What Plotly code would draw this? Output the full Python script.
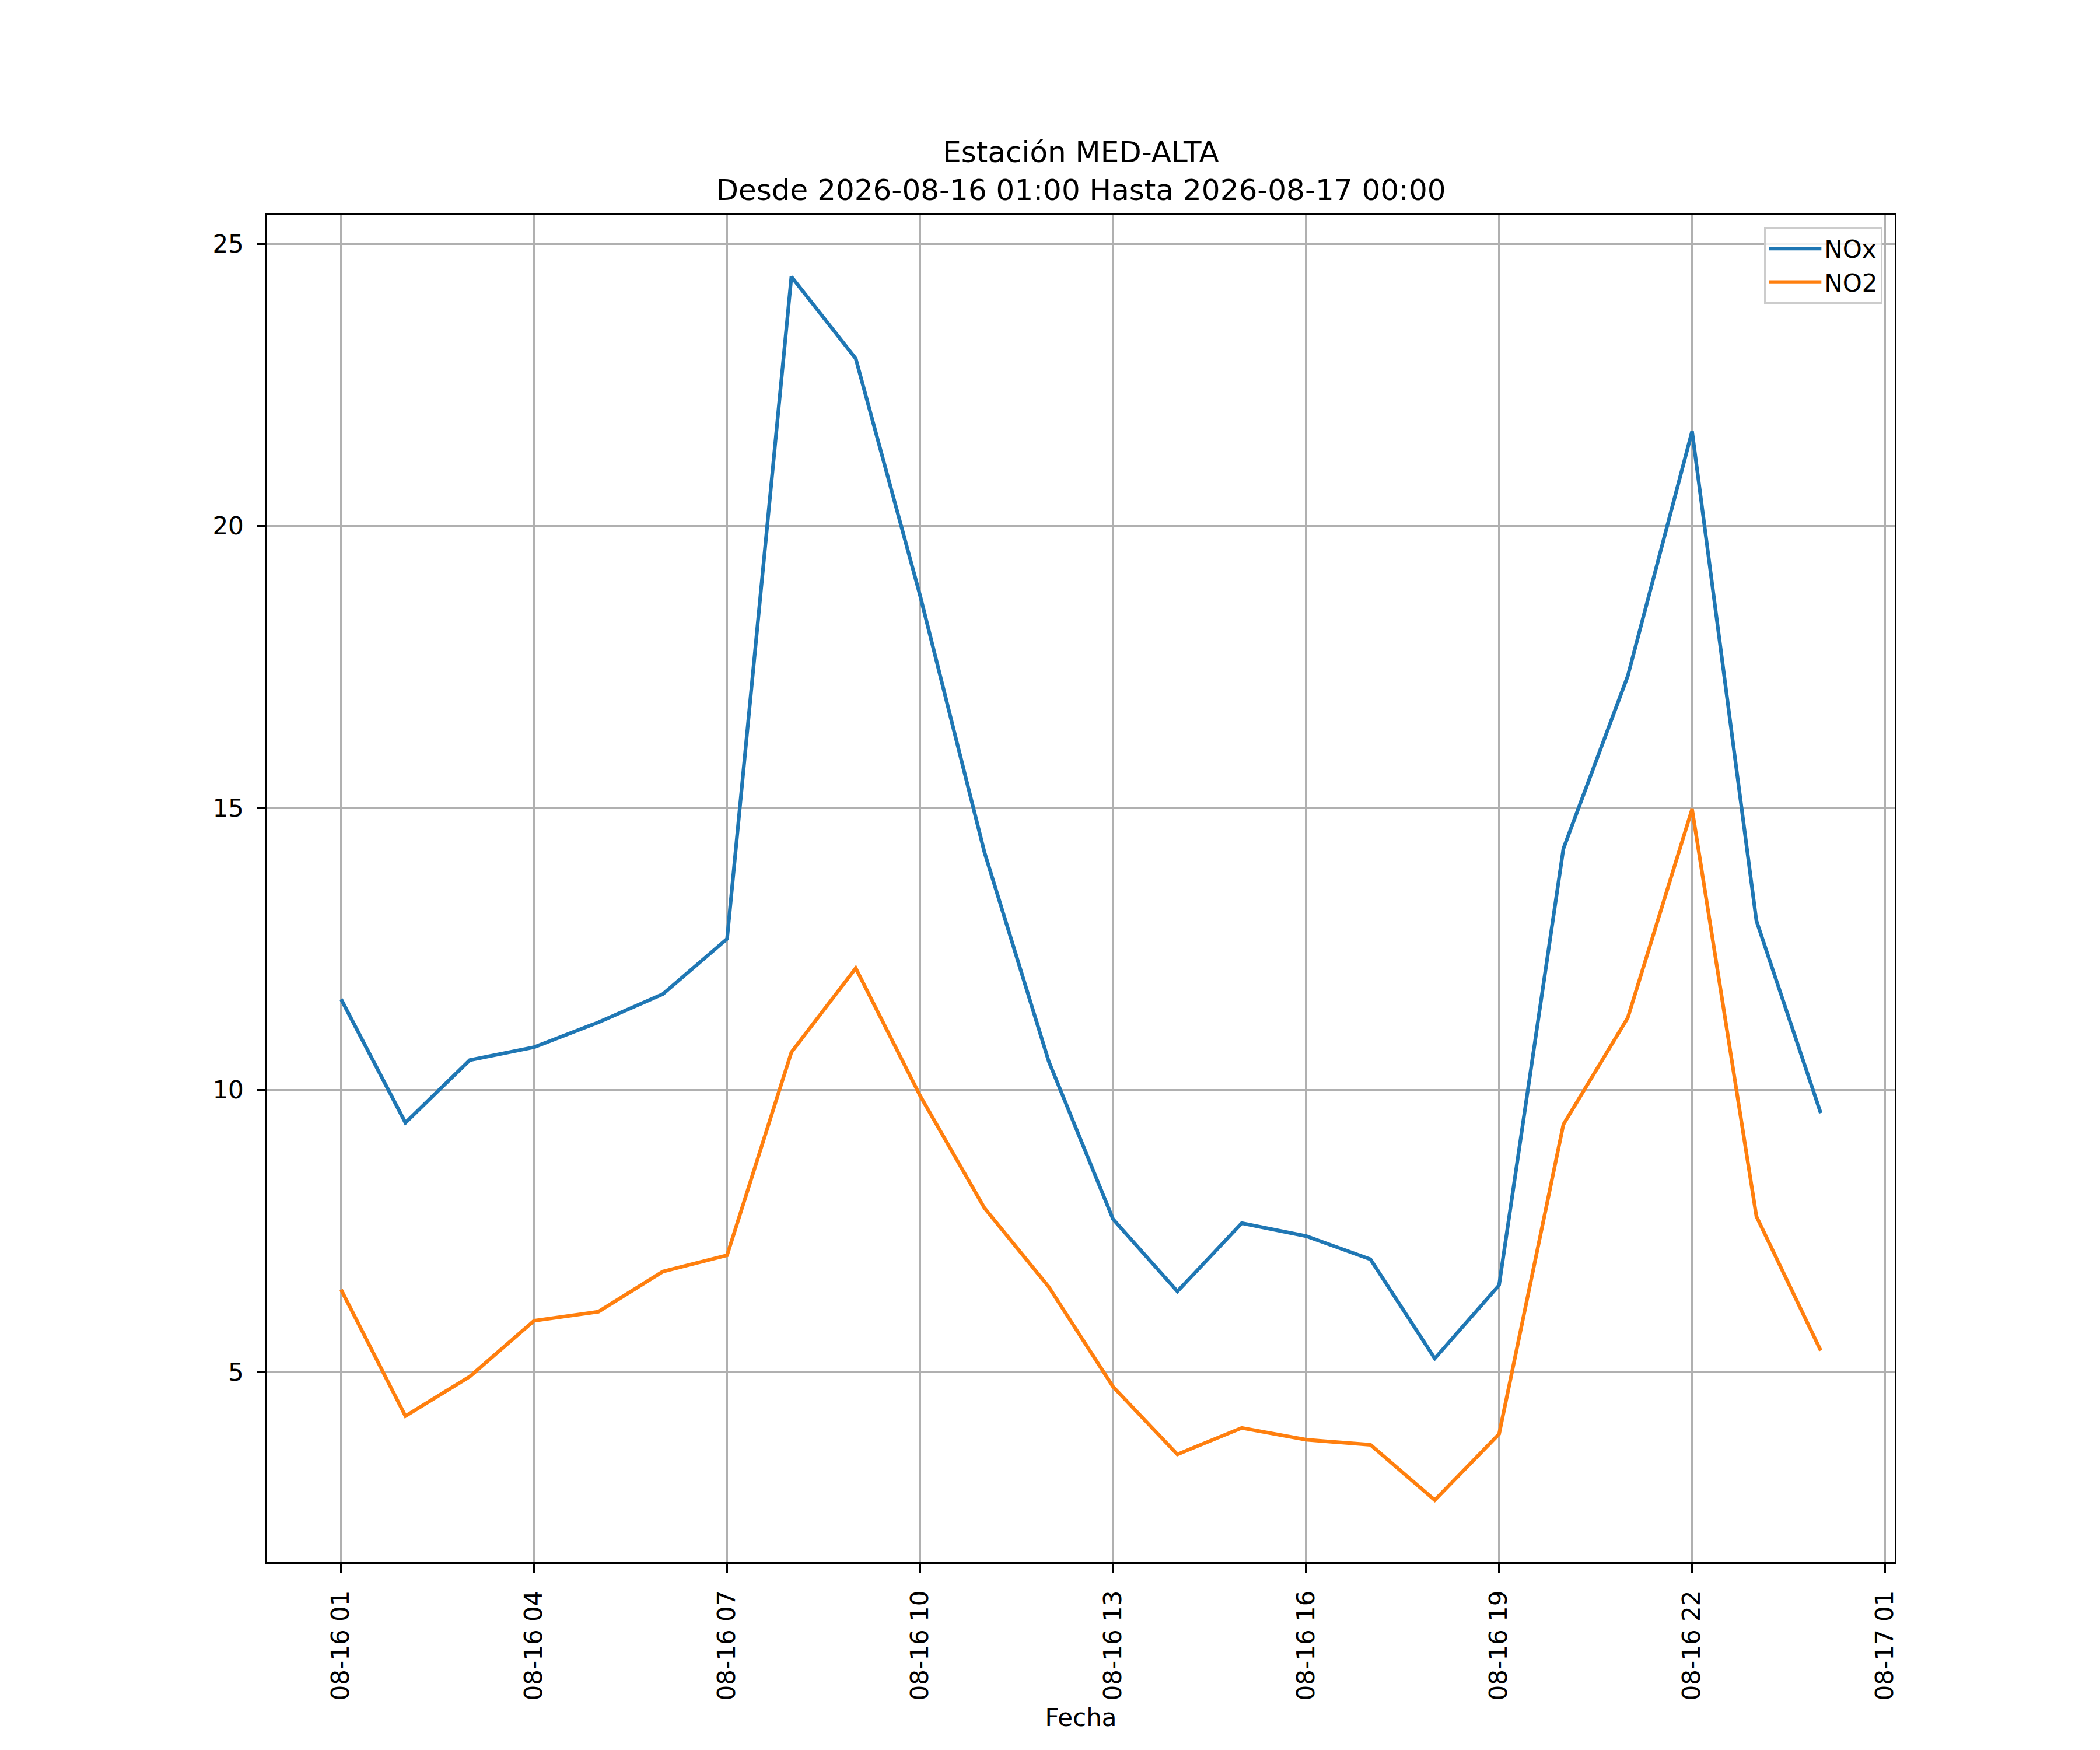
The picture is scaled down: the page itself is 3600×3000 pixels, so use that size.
import plotly.graph_objects as go

# Hourly readings, station MED-ALTA
fechas = [
    "2026-08-16 01:00", "2026-08-16 02:00", "2026-08-16 03:00", "2026-08-16 04:00",
    "2026-08-16 05:00", "2026-08-16 06:00", "2026-08-16 07:00", "2026-08-16 08:00",
    "2026-08-16 09:00", "2026-08-16 10:00", "2026-08-16 11:00", "2026-08-16 12:00",
    "2026-08-16 13:00", "2026-08-16 14:00", "2026-08-16 15:00", "2026-08-16 16:00",
    "2026-08-16 17:00", "2026-08-16 18:00", "2026-08-16 19:00", "2026-08-16 20:00",
    "2026-08-16 21:00", "2026-08-16 22:00", "2026-08-16 23:00", "2026-08-17 00:00",
]
nox = [11.61, 9.42, 10.53, 10.76, 11.20, 11.70, 12.68, 24.42,
       22.97, 18.77, 14.22, 10.51, 7.71, 6.43, 7.64, 7.41,
       7.00, 5.24, 6.54, 14.28, 17.34, 21.68, 13.00, 9.59]
no2 = [6.46, 4.22, 4.92, 5.91, 6.07, 6.78, 7.07, 10.67,
       12.16, 9.90, 7.91, 6.51, 4.74, 3.54, 4.01, 3.80,
       3.71, 2.73, 3.90, 9.39, 11.28, 14.98, 7.76, 5.38]

titulo = "Estación MED-ALTA<br>Desde 2026-08-16 01:00 Hasta 2026-08-17 00:00"

FONT = "DejaVu Sans"
LW = 3.3  # 0.8pt at 300 dpi

fig = go.Figure()
fig.add_trace(go.Scatter(x=fechas, y=nox, name="NOx", mode="lines",
                         line=dict(color="#1f77b4", width=6.25)))
fig.add_trace(go.Scatter(x=fechas, y=no2, name="NO2", mode="lines",
                         line=dict(color="#ff7f0e", width=6.25)))

fig.update_layout(
    width=3600, height=3000,
    margin=dict(l=450, r=360, t=360, b=330, autoexpand=False),
    paper_bgcolor="white", plot_bgcolor="white",
    font=dict(family=FONT, size=42, color="black"),
    title=dict(text=titulo, font=dict(size=50), x=0.5, xref="paper", xanchor="center",
               y=1, yref="paper", yanchor="bottom", pad=dict(b=90)),
    legend=dict(x=1 - 21 / 2790, y=1 - 21 / 2310, xanchor="right", yanchor="top",
                bgcolor="rgba(255,255,255,0.8)", bordercolor="#cccccc", borderwidth=LW,
                font=dict(size=42), itemwidth=90, tracegroupgap=0),
    showlegend=True,
)

fig.update_xaxes(
    type="date",
    range=["2026-08-15 23:51", "2026-08-17 01:09"],
    tick0="2026-08-16 01:00", dtick=3 * 3600 * 1000,
    tickformat="%m-%d %H", tickangle=-90,
    ticks="outside", ticklen=14.6, tickwidth=LW, tickcolor="black",
    ticklabelstandoff=14,
    showline=True, linewidth=LW, linecolor="black", mirror=True,
    showgrid=True, gridcolor="#b0b0b0", gridwidth=LW, zeroline=False,
    title=dict(text="Fecha", font=dict(size=42), standoff=16),
    tickfont=dict(size=42),
)
fig.update_yaxes(
    range=[1.63, 25.52],
    tickmode="linear", tick0=5, dtick=5,
    ticks="outside", ticklen=14.6, tickwidth=LW, tickcolor="black",
    ticklabelstandoff=14,
    showline=True, linewidth=LW, linecolor="black", mirror=True,
    showgrid=True, gridcolor="#b0b0b0", gridwidth=LW, zeroline=False,
    tickfont=dict(size=42),
)

fig.write_html("out.html")
